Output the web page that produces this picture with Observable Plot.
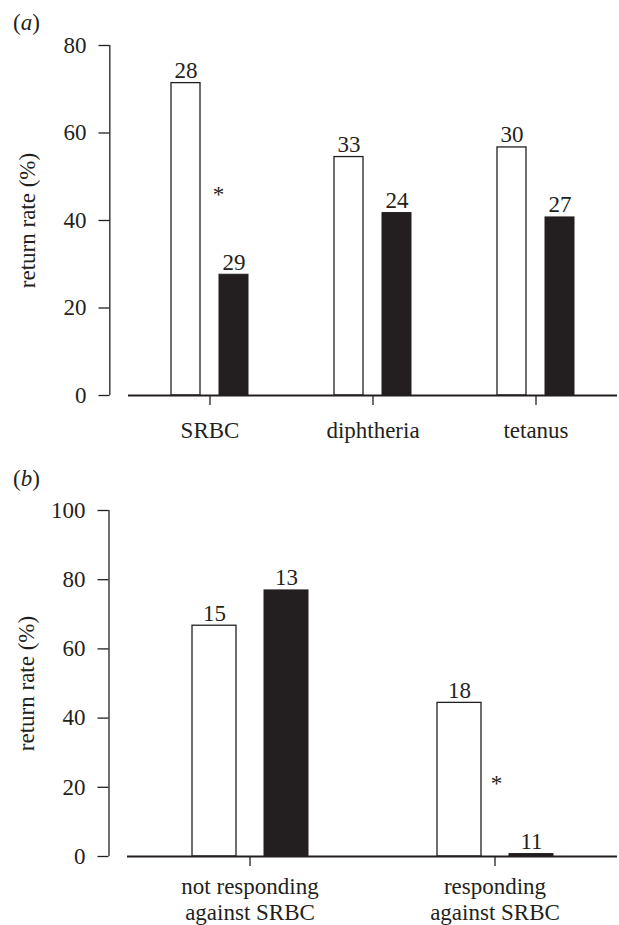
<!DOCTYPE html>
<html><head><meta charset="utf-8">
<script src="https://cdn.jsdelivr.net/npm/d3@7"></script>
<script src="https://cdn.jsdelivr.net/npm/@observablehq/plot@0.6"></script>
<style>
body{margin:0;background:#fff;font-family:"Liberation Serif","Times New Roman",serif;color:#231f20}
#wrap{position:relative;width:619px;height:925px;overflow:hidden;background:#fff}
.panel{position:absolute;left:0}
.tag{position:absolute;left:13px;font-size:23px;line-height:1}
</style></head><body>
<div id="wrap">
 <div class="panel" id="pa" style="top:0"></div>
 <div class="panel" id="pb" style="top:470px"></div>
 <div class="tag" style="top:11px">(<i>a</i>)</div>
 <div class="tag" style="top:467px">(<i>b</i>)</div>
</div>
<script>
// groups: open (white) and filled (black) bars
const groups = ["open", "filled"];

// panel (a)
const vaccinesA = ["SRBC", "diphtheria", "tetanus"];
const openA = [71.4, 54.5, 56.7];
const filledA = [27.6, 41.7, 40.7];
const nOpenA = [28, 33, 30];
const nFilledA = [29, 24, 27];
const yTicksA = [0, 20, 40, 60, 80];
const starA = [{cat: "SRBC", value: 47}];

// panel (b)
const statusB = ["not responding\nagainst SRBC", "responding\nagainst SRBC"];
const openB = [66.7, 44.4];
const filledB = [76.9, 0.7];
const nOpenB = [15, 18];
const nFilledB = [13, 11];
const yTicksB = [0, 20, 40, 60, 80, 100];
const starB = [{cat: "responding\nagainst SRBC", value: 22.5}];

const ink = "#231f20";
const font = "Liberation Serif, Times New Roman, serif";

function rowsOf(cats, open, filled, nO, nF) {
  return cats.flatMap((c, i) => [
    {cat: c, g: groups[0], v: open[i], n: nO[i]},
    {cat: c, g: groups[1], v: filled[i], n: nF[i]}
  ]);
}

const W = 619, ML = 127, MR = 2, AXIS_SHIFT = -18.5;

function panel({cats, rows, yTicks, height, marginTop, marginBottom, star, starDx, fxPad, lineHeight}) {
  const y0 = yTicks[0], y1 = yTicks[yTicks.length - 1];
  const facetCenter = (W - ML - MR) / cats.length / 2; // rule without x sits at facet centre
  return Plot.plot({
    width: W, height, marginLeft: ML, marginRight: MR, marginTop, marginBottom,
    style: {fontFamily: font, fontSize: "23px", color: ink, background: "white", overflow: "visible"},
    fx: {domain: cats, padding: 0, label: null},
    x: {domain: groups, paddingInner: 0.39, paddingOuter: 0.88, axis: null},
    y: {domain: [y0, y1], axis: null},
    marks: [
      Plot.axisY(yTicks, {anchor: "left", tickSize: 11, tickPadding: 12.5, dx: AXIS_SHIFT, label: "return rate (%)",
        labelArrow: "none", labelAnchor: "center", labelOffset: 110, stroke: ink, strokeWidth: 1.3}),
      Plot.ruleX(cats.slice(0, 1), {fx: d => d, x: null, y1: () => y0, y2: () => y1,
        dx: AXIS_SHIFT - facetCenter, stroke: ink, strokeWidth: 1.3}),
      Plot.axisFx({anchor: "bottom", tickSize: 10, tickPadding: fxPad, label: null, lineHeight, stroke: ink, strokeWidth: 1.3}),
      Plot.barY(rows, {filter: d => d.g === "open", fx: "cat", x: "g", y: "v", fill: "white", stroke: ink, strokeWidth: 1.3}),
      Plot.barY(rows, {filter: d => d.g === "filled", fx: "cat", x: "g", y: "v", fill: ink, stroke: ink, strokeWidth: 1}),
      Plot.ruleY([0], {stroke: ink, strokeWidth: 2}),
      Plot.text(rows, {fx: "cat", x: "g", y: "v", text: "n", dy: -5, lineAnchor: "bottom", fill: ink}),
      Plot.text(star, {fx: "cat", x: () => groups[0], y: "value", text: () => "*", dx: starDx, dy: 5, fill: ink})
    ]
  });
}

document.getElementById("pa").append(panel({
  cats: vaccinesA, rows: rowsOf(vaccinesA, openA, filledA, nOpenA, nFilledA), yTicks: yTicksA,
  height: 470, marginTop: 45, marginBottom: 75, star: starA, starDx: 32.5, fxPad: 12.7, lineHeight: 1.2
}));
document.getElementById("pb").append(panel({
  cats: statusB, rows: rowsOf(statusB, openB, filledB, nOpenB, nFilledB), yTicks: yTicksB,
  height: 455, marginTop: 40, marginBottom: 69, star: starB, starDx: 37, fxPad: 8.7, lineHeight: 1.13
}));
</script>
</body></html>
